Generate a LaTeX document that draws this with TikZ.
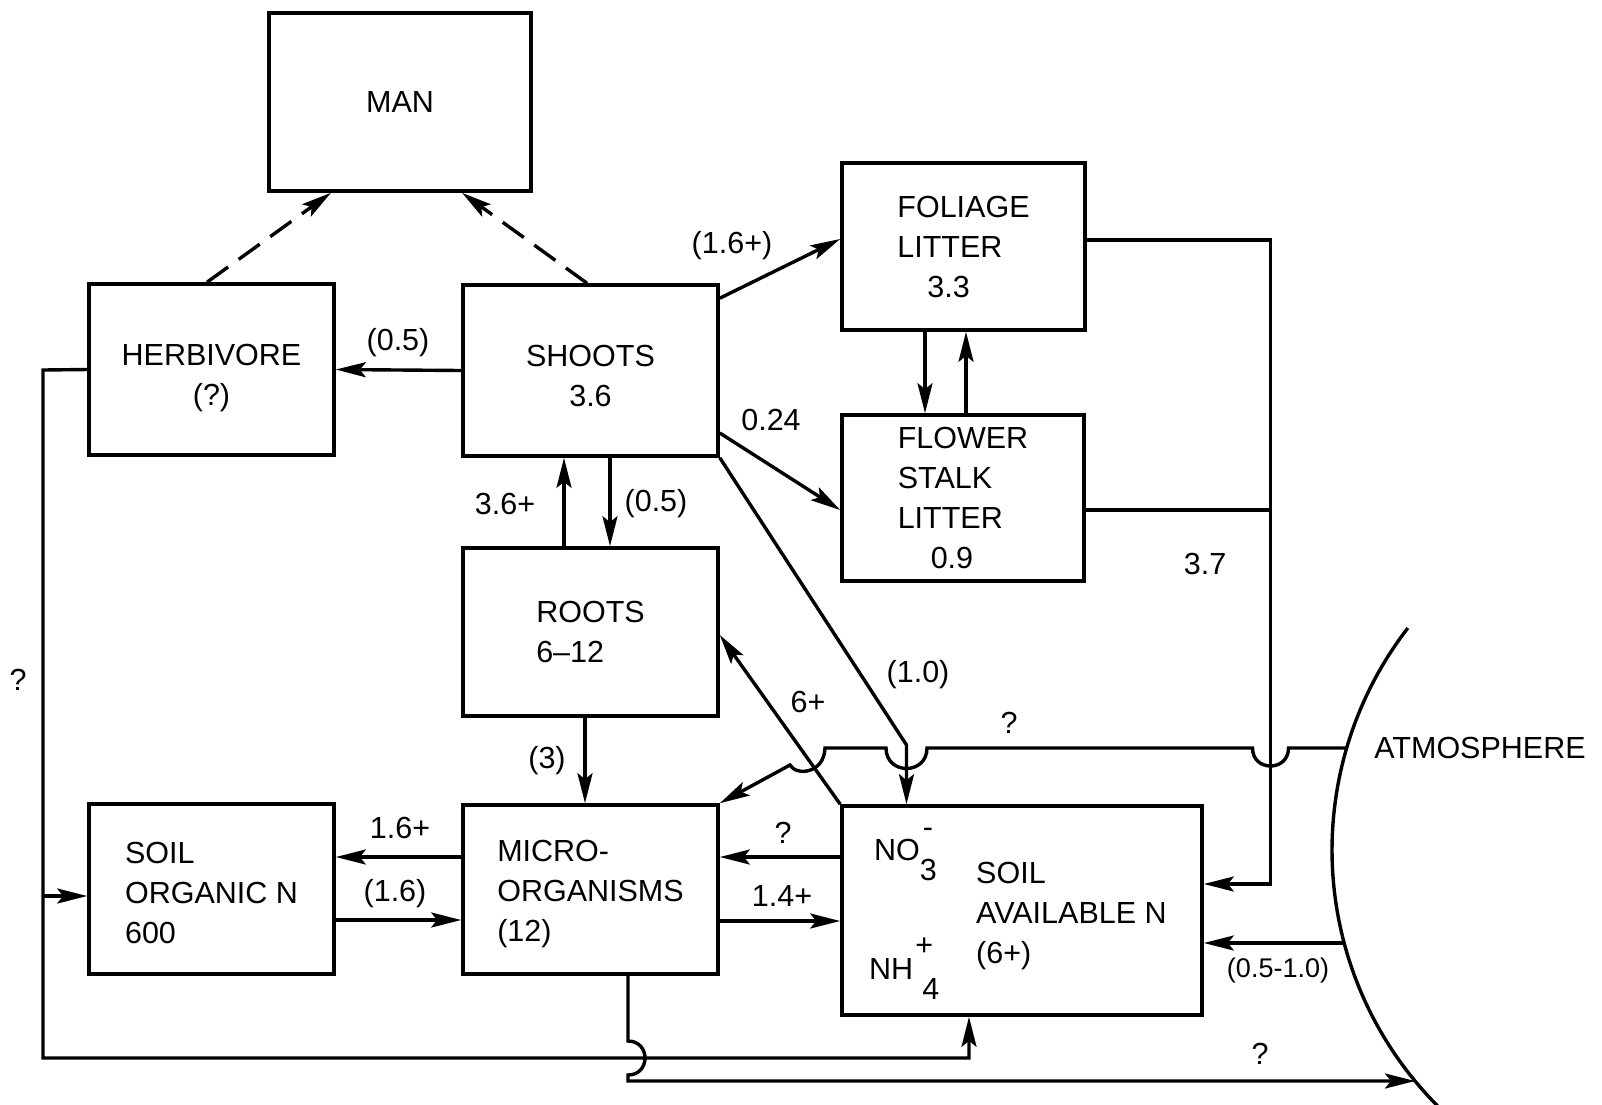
\documentclass[tikz,border=0pt]{standalone}
\usepackage{fontspec}
\setmainfont{Liberation Sans}
\usetikzlibrary{arrows.meta,calc}
\newcommand\lblfont{\fontsize{30.5}{40}\selectfont}
\newcommand\smlfont{\fontsize{27}{32}\selectfont}
\begin{document}
\begin{tikzpicture}[x=1pt,y=-1pt,
  box/.style={draw,line width=3.6pt,inner sep=0pt,font=\lblfont},
  flow/.style={line width=3.4pt,-{Stealth[length=30pt,width=15pt,inset=6pt]}},
  wire/.style={line width=3.4pt},
  dflow/.style={flow,dash pattern=on 26pt off 13pt},
  lab/.style={font=\lblfont,inner sep=0pt}]
\useasboundingbox (0,0) rectangle (1602,1104);
\fill[white] (0,0) rectangle (1602,1104);

% boxes
\node[box,minimum width=262pt,minimum height=178pt] (man) at (400,102) {MAN};
\node[box,minimum width=245pt,minimum height=171pt,align=center] (herb) at (211.5,369.5) {\rule{0pt}{38pt}HERBIVORE\\(?)};
\node[box,minimum width=255pt,minimum height=171pt,align=center] (shoots) at (590.5,370.5) {\rule{0pt}{32pt}SHOOTS\\3.6};
\node[box,minimum width=243pt,minimum height=167pt,align=left] (foliage) at (963.5,246.5) {FOLIAGE\\LITTER\\\hspace*{30pt}3.3};
\node[box,minimum width=242pt,minimum height=166pt,align=left] (flower) at (963,498) {FLOWER\\STALK\\LITTER\\\hspace*{33pt}0.9};
\node[box,minimum width=255pt,minimum height=168pt,align=left] (roots) at (590.5,632) {ROOTS\\6–12};
\node[box,minimum width=245pt,minimum height=170pt,align=left] (soilorg) at (211.5,889) {\rule{0pt}{30pt}SOIL\\ORGANIC N\\600};
\node[box,minimum width=255pt,minimum height=169pt,align=left] (micro) at (590.5,889.5) {\rule{0pt}{30pt}MICRO-\\ORGANISMS\\(12)};
\node[box,minimum width=360pt,minimum height=209pt] (soilav) at (1022,910.5) {};

% soil available N texts
\node[lab,anchor=base west] (no3) at (874,860) {NO\rlap{\raisebox{-20pt}{3}}\raisebox{23pt}{\hspace{3pt}-}};
\node[lab,anchor=base west] (nh4) at (869,979) {NH\hspace{2pt}\rlap{\raisebox{24pt}{+}}\hspace{7pt}\raisebox{-20pt}{4}};
\node[lab,align=left,anchor=west] (soiltxt) at (976,916) {SOIL\\AVAILABLE N\\(6+)};

% atmosphere
\draw[wire] plot[domain=217.7:135.2,samples=80,smooth] ({1695+363*cos(\x)},{850+363*sin(\x)});
\node[lab] (atm) at (1480,748) {ATMOSPHERE};
\coordinate (atmA) at (1346.6,748);
\coordinate (atmB) at (1344,943);
\coordinate (atmC) at (1415,1081);

% dashed to man
\draw[dflow] ($(herb.north)+(-4.5,0)$) -- ($(man.south)+(-69,0)$);
\draw[dflow] ($(shoots.north)+(-3.5,0)$) -- ($(man.south)+(62,0)$);

% shoots outputs
\draw[flow] (shoots.west) -- (herb.east);
\draw[flow] ($(shoots.north east)+(0,15)$) -- ($(foliage.west)+(0,-7.5)$);
\draw[flow] ($(shoots.east)+(0,62.5)$) -- ($(flower.west)+(0,12)$);
\coordinate (bendA) at (906.5,745);
\draw[flow] (shoots.south east) -- (bendA) -- (bendA |- soilav.north);

% shoots <-> roots
\draw[flow] ($(roots.north)+(-26.5,0)$) -- ($(shoots.south)+(-26.5,0)$);
\draw[flow] ($(shoots.south)+(19.5,0)$) -- ($(roots.north)+(19.5,0)$);

% foliage <-> flower
\draw[flow] ($(foliage.south)+(-38.5,0)$) -- ($(flower.north)+(-38,0)$);
\draw[flow] ($(flower.north)+(3,0)$) -- ($(foliage.south)+(2.5,0)$);

% litter to soil available N
\coordinate (litA) at (1270.5,240);
\coordinate (litB) at (1270.5,884);
\draw[flow] ($(foliage.east)+(0,-6.5)$) -- (litA) -- (litB) -- ($(soilav.east)+(0,-26.5)$);
\draw[wire] ($(flower.east)+(0,12)$) -- (1270.5,510);

% atmosphere fixation line with jumps
\draw[flow] (atmA) -- (1288.5,748) .. controls (1288.5,772) and (1252.5,772) .. (1252.5,748)
  -- (927,748) .. controls (927,775.3) and (886,775.3) .. (886,748)
  -- (825,748) .. controls (824,774) and (796,776) .. (790,765) -- (micro.north east);

% roots -> micro, soil avail -> roots
\draw[flow] ($(roots.south)+(-5.5,0)$) -- ($(micro.north)+(-5.5,0)$);
\draw[flow] (soilav.north west) -- ($(roots.east)+(0,3)$);

% micro <-> soil organic
\draw[flow] ($(micro.west)+(0,-32.5)$) -- ($(soilorg.east)+(0,-32)$);
\draw[flow] ($(soilorg.east)+(0,31)$) -- ($(micro.west)+(0,30.5)$);

% micro <-> soil available
\draw[flow] ($(soilav.west)+(0,-53.5)$) -- ($(micro.east)+(0,-32.5)$);
\draw[flow] ($(micro.east)+(0,31.5)$) -- ($(soilav.west)+(0,10.5)$);

% atmosphere -> soil available
\draw[flow] (atmB) -- ($(soilav.east)+(0,32.5)$);

% herbivore return loop
\coordinate (hA) at (43,370);
\coordinate (hB) at (43,1058);
\coordinate (hJ) at (43,896);
\coordinate (sIn) at ($(soilav.south)+(-53,0)$);
\draw[flow] (herb.west) -- (hA) -- (hB) -- (sIn |- hB) -- (sIn);
\draw[flow] (hJ) -- ($(soilorg.west)+(0,7)$);

% micro -> atmosphere with jump
\draw[flow] ($(micro.south)+(37.5,0)$) -- (628,1041) .. controls (650.7,1041) and (650.7,1075) .. (628,1075) -- (628,1081) -- (atmC);

% labels
\node[lab] (l1) at (398,343) {(0.5)};
\node[lab] (l2) at (732,246) {(1.6+)};
\node[lab] (l3) at (771,420) {0.24};
\node[lab] (l4) at (505,504) {3.6+};
\node[lab] (l5) at (656,504) {(0.5)};
\node[lab] (l6) at (1205,564) {3.7};
\node[lab] (l7) at (547,761) {(3)};
\node[lab] (l8) at (808,702) {6+};
\node[lab] (l9) at (918,675) {(1.0)};
\node[lab] (l10) at (1009,723) {?};
\node[lab] (l11) at (783,833) {?};
\node[lab] (l12) at (782,896) {1.4+};
\node[lab] (l13) at (400,828) {1.6+};
\node[lab] (l14) at (395,894) {(1.6)};
\node[lab] (l15) at (18,680) {?};
\node[lab,font=\smlfont] (l16) at (1278,970) {(0.5-1.0)};
\node[lab] (l17) at (1260,1054) {?};
\end{tikzpicture}
\end{document}
